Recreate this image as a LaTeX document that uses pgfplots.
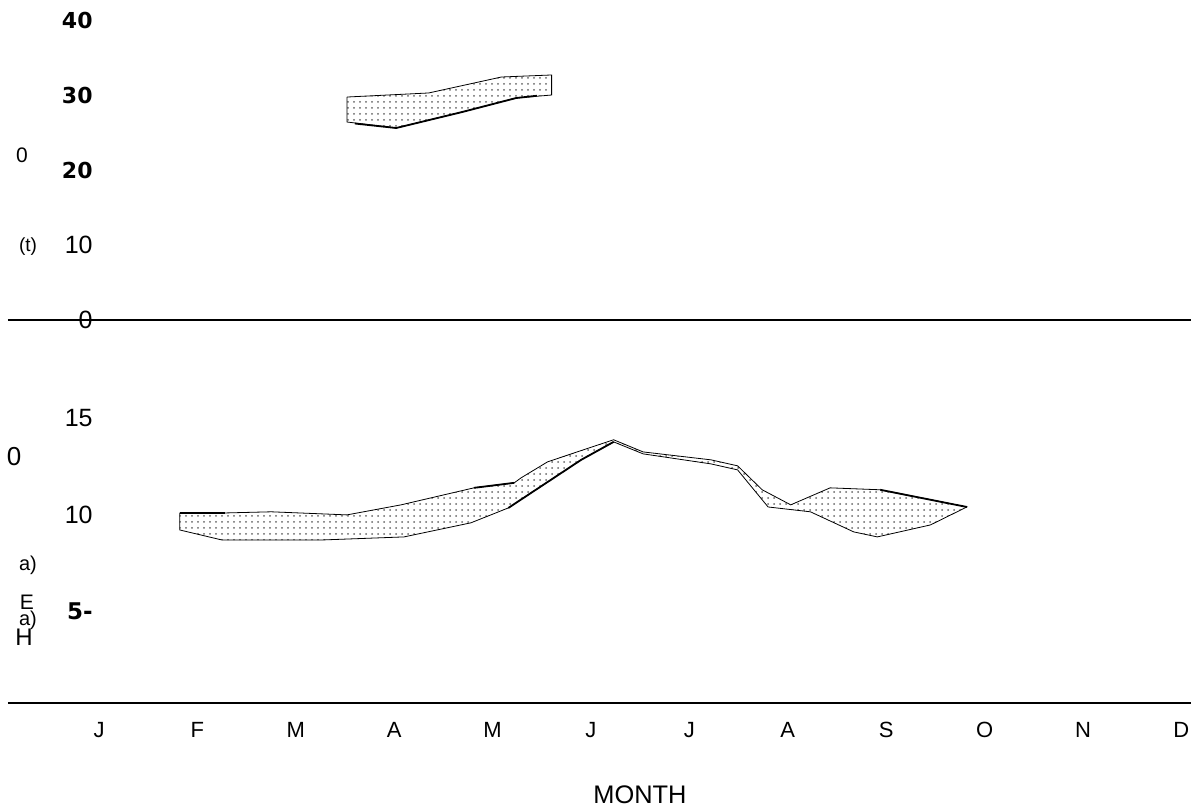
\documentclass[border=0pt]{standalone}
\usepackage{fontspec}
\setmainfont{Liberation Sans}
\newfontfamily\dvs{DejaVu Sans}
\usepackage{pgfplots}
\pgfplotsset{compat=1.18}
\usetikzlibrary{patterns}

% upper panel band (month, value)
\pgfplotstableread{
m v
3.52 29.73
4.35 30.27
5.09 32.40
5.60 32.67
5.60 30.00
5.24 29.60
4.69 27.73
4.02 25.60
3.52 26.40
3.52 29.73
}\topband

% lower panel band: upper edge left->right, then lower edge right->left
\pgfplotstableread{
m v
1.82 10.10
2.28 10.10
2.75 10.16
3.52 10.00
4.07 10.52
4.81 11.40
5.22 11.66
5.29 11.92
5.56 12.75
6.23 13.89
6.53 13.26
7.22 12.85
7.49 12.54
7.74 11.30
8.03 10.52
8.43 11.40
8.94 11.30
9.82 10.41
9.45 9.48
8.91 8.86
8.67 9.12
8.23 10.16
7.80 10.41
7.49 12.33
7.22 12.64
6.53 13.16
6.23 13.78
5.90 12.85
5.16 10.36
4.78 9.59
4.10 8.86
3.26 8.70
2.75 8.70
2.25 8.70
1.82 9.22
1.82 10.10
}\lowband

\pgfplotsset{panel/.style={
  scale only axis, width=591.5pt, xmin=0.075, xmax=12.098,
  axis lines=left, axis line style={-}, y axis line style={draw=none},
  x axis line style={line width=1pt},
  major tick length=0pt, clip=false,
  yticklabel style={anchor=east, inner sep=0pt, xshift=42.5pt},
}}

\begin{document}
\begin{tikzpicture}
\useasboundingbox (0pt,0pt) rectangle (595.5pt,-405pt);
\begin{axis}[panel, anchor=south west, at={(4pt,-160pt)}, height=150pt,
  ymin=0, ymax=40, xtick=\empty, ytick={0,10,20,30,40},
  yticklabels={{\fontsize{12.5}{14}\selectfont 0},
               {\fontsize{12.5}{14}\selectfont 10},
               {\dvs\bfseries\fontsize{11}{13}\selectfont 20},
               {\dvs\bfseries\fontsize{11}{13}\selectfont 30},
               {\dvs\bfseries\fontsize{11}{13}\selectfont 40}}]
\addplot[draw=black, line width=0.4pt, pattern=dots, pattern color=black!60] table {\topband};
\addplot[black, line width=0.9pt] coordinates {(3.6,26.2) (4.02,25.6) (4.69,27.73) (5.24,29.6) (5.45,29.9)};
\end{axis}

\begin{axis}[panel, anchor=south west, at={(4pt,-351.5pt)}, height=152pt,
  ymin=0.26, ymax=16, ytick={5,10,15},
  yticklabels={{\dvs\bfseries\fontsize{11.5}{13}\selectfont 5-\hspace{-3.5pt}},
               {\fontsize{12.5}{14}\selectfont 10},
               {\fontsize{12.5}{14}\selectfont 15}},
  xtick={1,...,12}, xticklabels={J,F,M,A,M,J,J,A,S,O,N,D},
  xticklabel style={anchor=north, inner sep=0pt, yshift=-9.5pt, font=\fontsize{11}{13}\selectfont}]
\addplot[draw=black, line width=0.4pt, pattern=dots, pattern color=black!60] table {\lowband};
\addplot[black, line width=0.9pt] coordinates {(1.82,10.10) (2.28,10.10)};
\addplot[black, line width=0.9pt] coordinates {(5.16,10.36) (5.90,12.85) (6.23,13.78)};
\addplot[black, line width=0.9pt] coordinates {(4.81,11.40) (5.22,11.66)};
\addplot[black, line width=0.9pt] coordinates {(8.94,11.30) (9.82,10.41)};
\end{axis}

\node[font=\fontsize{10.5}{12}\selectfont] at (11pt,-77.5pt) {0};
\node[font=\fontsize{9.5}{11}\selectfont] at (14pt,-123.5pt) {(t)};
\node[font=\fontsize{13}{15}\selectfont] at (7pt,-228.5pt) {0};
\node[font=\fontsize{10}{12}\selectfont] at (14pt,-282.5pt) {a)};
\node[font=\fontsize{10.5}{12}\selectfont] at (13.5pt,-301pt) {E};
\node[font=\fontsize{10}{12}\selectfont] at (14pt,-310pt) {a)};
\node[font=\fontsize{12}{14}\selectfont] at (12pt,-318.5pt) {H};
\node[font=\fontsize{12.7}{15}\selectfont] at (320pt,-397.5pt) {MONTH};
\end{tikzpicture}
\end{document}
